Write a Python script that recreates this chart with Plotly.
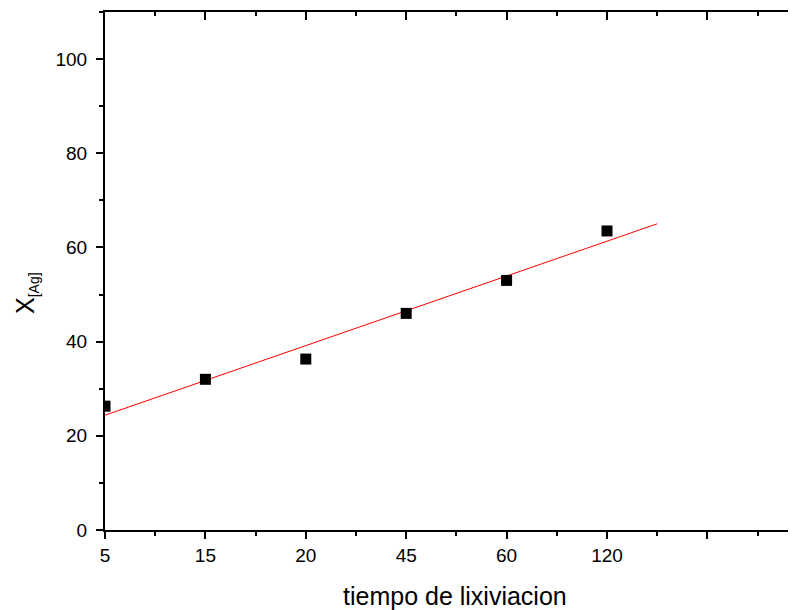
import numpy as np
import plotly.graph_objects as go

# Data
categories = ["5", "15", "20", "45", "60", "120"]
positions = [1, 2, 3, 4, 5, 6]
x_ag = [26.3, 32.0, 36.3, 46.0, 53.0, 63.5]

# Linear fit
slope, intercept = np.polyfit(positions, x_ag, 1)
fit_x = np.array([1.0, 6.5])
fit_y = slope * fit_x + intercept

OFF = 8  # browser body margin
W, H = 796 - OFF, 610 - OFF
# plot area in window pixels: left 105, top 12, bottom 530, right 796
L, R, T, B = 105 - OFF, 0, 12 - OFF, 610 - 530
PW, PH = W - L - R, H - T - B
FONT = "Liberation Sans, Arial, sans-serif"

def px_x(wx):
    return (wx - OFF - L) / PW

def px_y(wy):
    return (H - B - (wy - OFF)) / PH

fig = go.Figure()
fig.add_trace(go.Scatter(x=fit_x, y=fit_y, mode="lines",
                         line=dict(color="#ff0000", width=1), showlegend=False))
fig.add_trace(go.Scatter(x=positions, y=x_ag, mode="markers",
                         marker=dict(symbol="square", size=11, color="black"),
                         showlegend=False))

xr = [1, 1 + PW / 100.4]
minor_x = [1.5, 2.5, 3.5, 4.5, 5.5, 6.5, 7.5]
fig.update_layout(
    width=W, height=H,
    margin=dict(l=L, r=R, t=T, b=B),
    paper_bgcolor="white", plot_bgcolor="white",
    font=dict(family=FONT, size=19, color="black"),
    xaxis=dict(range=xr, tickvals=[1, 2, 3, 4, 5, 6, 7],
               ticktext=categories + [""],
               ticks="outside", ticklen=7, tickwidth=2, tickcolor="black",
               showline=True, linecolor="black", linewidth=2,
               showgrid=False, zeroline=False,
               minor=dict(tickvals=minor_x,
                          ticks="outside", ticklen=4, tickwidth=2, tickcolor="black",
                          showgrid=False),
               tickfont=dict(size=19)),
    xaxis2=dict(range=xr, overlaying="x", side="top", anchor="y",
                tickvals=[1, 2, 3, 4, 5, 6, 7], showticklabels=False,
                ticks="inside", ticklen=8, tickwidth=2, tickcolor="black",
                showline=True, linecolor="black", linewidth=2,
                showgrid=False, zeroline=False,
                minor=dict(tickvals=minor_x,
                           ticks="inside", ticklen=4, tickwidth=2, tickcolor="black",
                           showgrid=False)),
    yaxis=dict(range=[0, 110], tickvals=[0, 20, 40, 60, 80, 100],
               ticks="outside", ticklen=7, tickwidth=2, tickcolor="black",
               showline=True, linecolor="black", linewidth=2,
               showgrid=False, zeroline=False, ticklabelstandoff=5,
               minor=dict(tickvals=[10, 30, 50, 70, 90, 110],
                          ticks="outside", ticklen=4, tickwidth=2, tickcolor="black",
                          showgrid=False),
               tickfont=dict(size=19)),
)
# dummy trace to activate xaxis2
fig.add_trace(go.Scatter(x=[None], y=[None], xaxis="x2", showlegend=False))

fig.add_annotation(text="tiempo de lixiviacion", xref="paper", yref="paper",
                   x=px_x(455), y=px_y(596),
                   showarrow=False, font=dict(size=25, family=FONT),
                   xanchor="center", yanchor="middle")
fig.add_annotation(text="X<sub><span style='font-size:14px'>[Ag]</span></sub>",
                   xref="paper", yref="paper",
                   x=px_x(26), y=px_y(293),
                   showarrow=False, textangle=-90, font=dict(size=25, family=FONT),
                   xanchor="center", yanchor="middle")

fig.write_html("out.html")
